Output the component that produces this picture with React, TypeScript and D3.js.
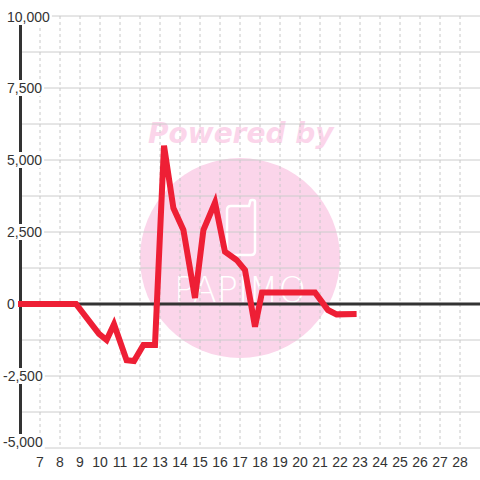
import React from "react";
import * as d3 from "d3";

const times = [5.9, 8.8, 9.95, 10.33, 10.7, 11.33, 11.7, 12.17, 12.75, 13.2, 13.67, 14.17, 14.75, 15.17, 15.75, 16.25, 16.83, 17.25, 17.75, 18.1, 20.75, 21.4, 21.83, 22.83];
const values = [0, 0, -1040, -1250, -700, -1950, -1980, -1420, -1420, 5500, 3330, 2570, 210, 2570, 3520, 1815, 1530, 1180, -790, 400, 400, -210, -360, -350];

const xTickLabels = [7, 8, 9, 10, 11, 12, 13, 14, 15, 16, 17, 18, 19, 20, 21, 22, 23, 24, 25, 26, 27, 28];
const yTickLabels = [10000, 7500, 5000, 2500, 0, -2500, -5000];
const yGridValues = [10000, 8750, 7500, 6250, 5000, 3750, 2500, 1250, 0, -1250, -2500, -3750, -5000];

const W = 480;
const H = 480;

export default function App() {
  const x = d3.scaleLinear().domain([7, 28]).range([40, 460]);
  const y = d3.scaleLinear().domain([-5000, 10000]).range([448, 16]);
  const fmt = d3.format(",");
  const line = d3
    .line<number>()
    .x((_, i) => x(times[i]))
    .y((d) => y(d));
  const font = "'Liberation Sans', Arial, sans-serif";
  const textW = (s: string) => {
    let w = 0;
    for (const c of s) w += c === "," ? 3.9 : c === "-" ? 4.7 : 7.8;
    return w;
  };
  return (
    <div style={{ position: "fixed", left: 0, top: 0 }}>
      <svg width={W} height={H} style={{ display: "block" }}>
        <rect x={0} y={0} width={W} height={H} fill="#ffffff" />
        {/* watermark */}
        <g>
          <circle cx={240} cy={258} r={100} fill="#fbd5ea" />
          <text
            x={148}
            y={143}
            fontFamily="'DejaVu Sans', sans-serif"
            fontWeight="bold"
            fontStyle="italic"
            fontSize={28}
            fill="#fbd5ea"
          >
            Powered by
          </text>
          <path
            d="M231,206 L249,206 L250,202 Q250,200 252,200 L253,200 Q255,200 255,202 L255,251 Q255,255 251,255 L231,255 Q227,255 227,251 L227,210 Q227,206 231,206 Z"
            fill="none"
            stroke="#ffffff"
            strokeWidth={2.5}
          />
          <text
            x={240}
            y={302}
            textAnchor="middle"
            fontFamily="'DejaVu Sans', sans-serif"
            fontWeight={200}
            fontSize={36}
            fill="#ffffff"
            textLength={132}
            lengthAdjust="spacingAndGlyphs"
          >
            PAPIMO
          </text>
        </g>
        {/* horizontal grid */}
        {yGridValues.map((v) => (
          <line key={"h" + v} x1={20} x2={480} y1={y(v)} y2={y(v)} stroke="#cccccc" strokeWidth={1} />
        ))}
        {/* vertical grid */}
        {xTickLabels.map((v) => (
          <line
            key={"v" + v}
            x1={x(v)}
            x2={x(v)}
            y1={16}
            y2={447}
            stroke="#c8c8c8"
            strokeWidth={1}
            strokeDasharray="3,3"
          />
        ))}
        {/* y axis bar */}
        <line x1={20.5} x2={20.5} y1={16} y2={448} stroke="#333333" strokeWidth={3} />
        {/* zero line */}
        <line x1={20} x2={480} y1={y(0)} y2={y(0)} stroke="#333333" strokeWidth={3} />
        {/* data line */}
        <path d={line(values) || ""} fill="none" stroke="#ee1f35" strokeWidth={6} strokeLinejoin="miter" />
        {/* y labels */}
        {yTickLabels.map((v) => {
          const s = fmt(v).replace("−", "-");
          const lx = v < 0 ? 3 : 7;
          const cy = v === -5000 ? 442 : v === 10000 ? 17 : y(v);
          const w = textW(s);
          return (
            <g key={"yl" + v}>
              <rect x={lx - 2} y={cy - 8} width={w + 4} height={16} fill="#ffffff" />
              <text
                x={lx}
                y={cy}
                dy="0.35em"
                fontFamily={font}
                fontSize={14}
                fill="#333333"
              >
                {s}
              </text>
            </g>
          );
        })}
        {/* x labels */}
        {xTickLabels.map((v) => (
          <text
            key={"xl" + v}
            x={x(v)}
            y={462}
            dy="0.35em"
            textAnchor="middle"
            fontFamily={font}
            fontSize={14}
            fill="#333333"
          >
            {v}
          </text>
        ))}
      </svg>
    </div>
  );
}
